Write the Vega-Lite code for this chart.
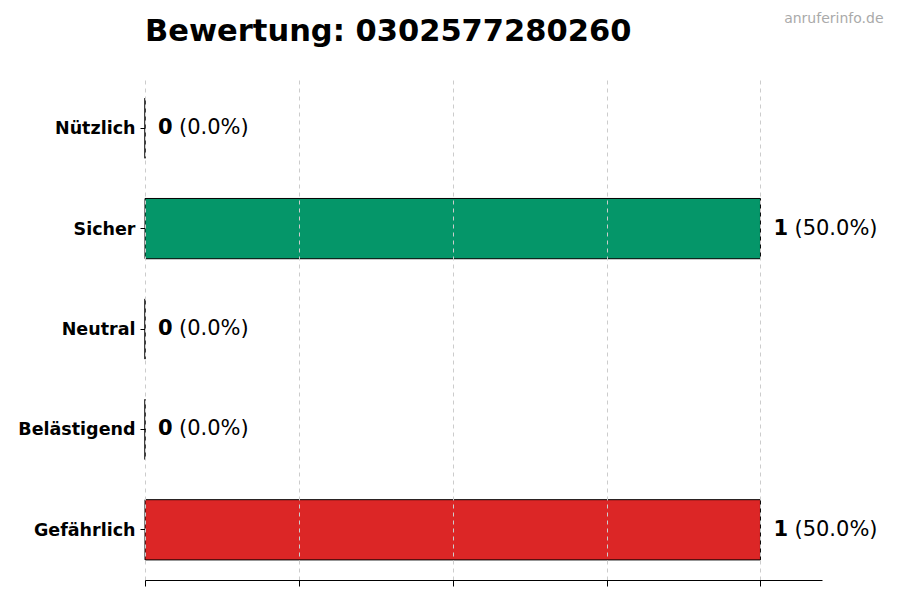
{
  "$schema": "https://vega.github.io/schema/vega-lite/v6.json",
  "width": 677,
  "height": 502,
  "autosize": {"type": "none"},
  "padding": {"left": 145, "top": 78, "right": 78, "bottom": 20},
  "title": {
    "text": "Bewertung: 0302577280260",
    "anchor": "start",
    "frame": "group",
    "font": "DejaVu Sans",
    "fontSize": 30.5,
    "fontWeight": "bold",
    "color": "black",
    "baseline": "alphabetic",
    "offset": 0,
    "dy": 60
  },
  "config": {
    "view": {"stroke": null},
    "font": "DejaVu Sans"
  },
  "data": {
    "values": [
      {"kategorie": "Nützlich", "anzahl": 0, "anteil": 0.0},
      {"kategorie": "Sicher", "anzahl": 1, "anteil": 0.5},
      {"kategorie": "Neutral", "anzahl": 0, "anteil": 0.0},
      {"kategorie": "Belästigend", "anzahl": 0, "anteil": 0.0},
      {"kategorie": "Gefährlich", "anzahl": 1, "anteil": 0.5}
    ]
  },
  "transform": [
    {"calculate": "'(' + format(datum.anteil, '.1%') + ')'", "as": "anteil_text"}
  ],
  "encoding": {
    "y": {
      "field": "kategorie",
      "type": "nominal",
      "sort": ["Nützlich", "Sicher", "Neutral", "Belästigend", "Gefährlich"],
      "scale": {"paddingInner": 0.4, "paddingOuter": 0.2},
      "axis": {
        "title": "anruferinfo.de",
        "titleAngle": 0,
        "titleAlign": "right",
        "titleBaseline": "top",
        "titleX": 738,
        "titleY": -67,
        "titleFontSize": 14,
        "titleFontWeight": "normal",
        "titleColor": "#aaaaaa",
        "domain": false,
        "labelFontSize": 17.5,
        "labelFontWeight": "bold",
        "labelColor": "black",
        "labelOffset": 1,
        "tickColor": "black",
        "tickSize": 5,
        "labelPadding": 5
      }
    },
    "x": {
      "field": "anzahl",
      "type": "quantitative",
      "scale": {"domain": [0, 1.1], "nice": false},
      "axis": {
        "values": [0, 0.25, 0.5, 0.75, 1],
        "labels": false,
        "title": null,
        "grid": true,
        "gridDash": [4, 4],
        "gridColor": "#cccccc",
        "domainColor": "black",
        "tickColor": "black",
        "tickSize": 6,
        "zindex": 1
      }
    }
  },
  "layer": [
    {
      "mark": {"type": "bar", "stroke": "black", "strokeWidth": 1},
      "encoding": {
        "color": {
          "field": "kategorie",
          "type": "nominal",
          "scale": {
            "domain": ["Nützlich", "Sicher", "Neutral", "Belästigend", "Gefährlich"],
            "range": ["#2563eb", "#059669", "#9ca3af", "#f59e0b", "#dc2626"]
          },
          "legend": null
        }
      }
    },
    {
      "mark": {"type": "text", "align": "left", "baseline": "middle", "dx": 13, "fontSize": 21, "fontWeight": "bold", "color": "black"},
      "encoding": {"text": {"field": "anzahl", "type": "quantitative"}}
    },
    {
      "mark": {"type": "text", "align": "left", "baseline": "middle", "dx": 34, "fontSize": 21, "color": "black"},
      "encoding": {"text": {"field": "anteil_text", "type": "nominal"}}
    }
  ]
}
